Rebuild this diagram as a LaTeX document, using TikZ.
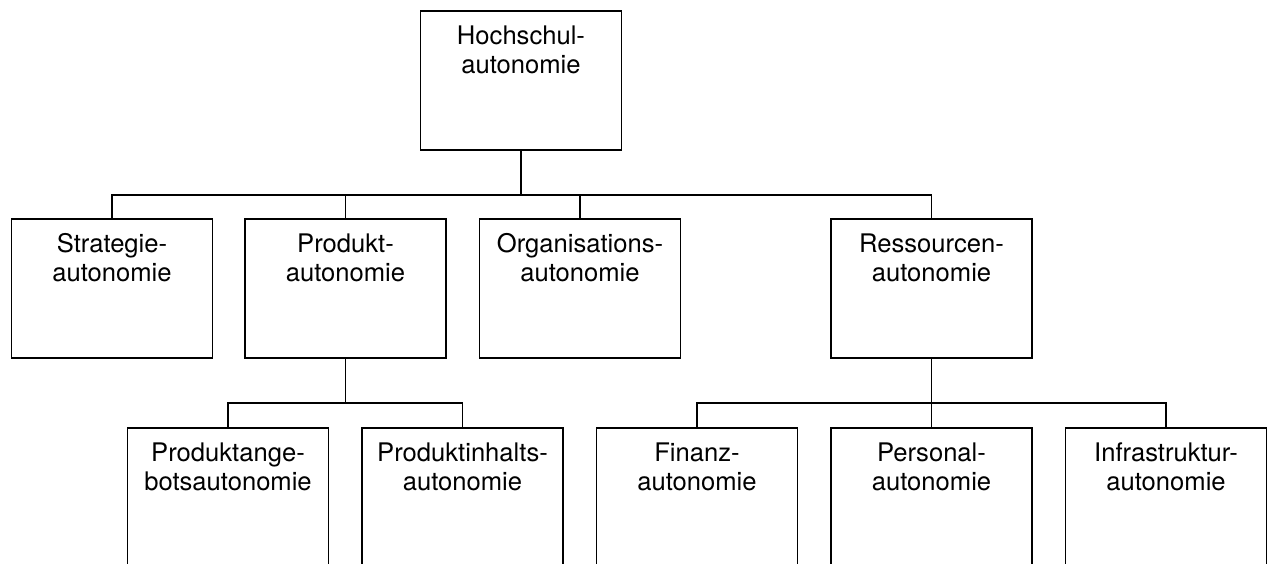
\documentclass[tikz,border=0pt]{standalone}
\usepackage{fontspec}
\setmainfont{TeX Gyre Heros}
\usepackage{tikz}

\newcommand{\boxtext}[2]{\parbox[c][139pt][t]{201pt}{\centering\rule{0pt}{33pt}#1\\#2}}

\begin{document}
\begin{tikzpicture}[x=1pt,y=-1pt,
    orgbox/.style={draw,line width=1.1pt,inner sep=0pt,font=\fontsize{25.6}{29.5}\selectfont},
    link/.style={line width=1.1pt},
    stem/.style={line width=1.8pt}]
  \useasboundingbox (0,0) rectangle (1267,563);
  \clip (0,0) rectangle (1267,563);
  % top
  \node[orgbox] (H) at (521,80.5) {\boxtext{Hochschul-}{autonomie}};
  % second row
  \node[orgbox] (S) at (112,288.5) {\boxtext{Strategie-}{autonomie}};
  \node[orgbox] (P) at (345.5,288.5) {\boxtext{Produkt-}{autonomie}};
  \node[orgbox] (O) at (580,288.5) {\boxtext{Organisations-}{autonomie}};
  \node[orgbox] (R) at (931.5,288.5) {\boxtext{Ressourcen-}{autonomie}};
  % third row
  \node[orgbox] (P1) at (228,497.5) {\boxtext{Produktange-}{botsautonomie}};
  \node[orgbox] (P2) at (462.5,497.5) {\boxtext{Produktinhalts-}{autonomie}};
  \node[orgbox] (R1) at (697,497.5) {\boxtext{Finanz-}{autonomie}};
  \node[orgbox] (R2) at (931.5,497.5) {\boxtext{Personal-}{autonomie}};
  \node[orgbox] (R3) at (1166,497.5) {\boxtext{Infrastruktur-}{autonomie}};
  % junctions
  \coordinate (J0) at (521,195);
  \coordinate (J1) at (345.5,403);
  \coordinate (J2) at (931.5,403);
  \draw[stem] (H.south) -- (J0);
  \draw[link] (S.north) |- (J0) -| (R.north);
  \draw[link] (P.north) -- (P.north |- J0);
  \draw[link] (O.north) -- (O.north |- J0);
  \draw[stem] (P.south) -- (J1);
  \draw[link] (P1.north) |- (J1) -| (P2.north);
  \draw[stem] (R.south) -- (J2);
  \draw[link] (R1.north) |- (J2) -| (R3.north);
  \draw[link] (R2.north) -- (J2);
\end{tikzpicture}
\end{document}
